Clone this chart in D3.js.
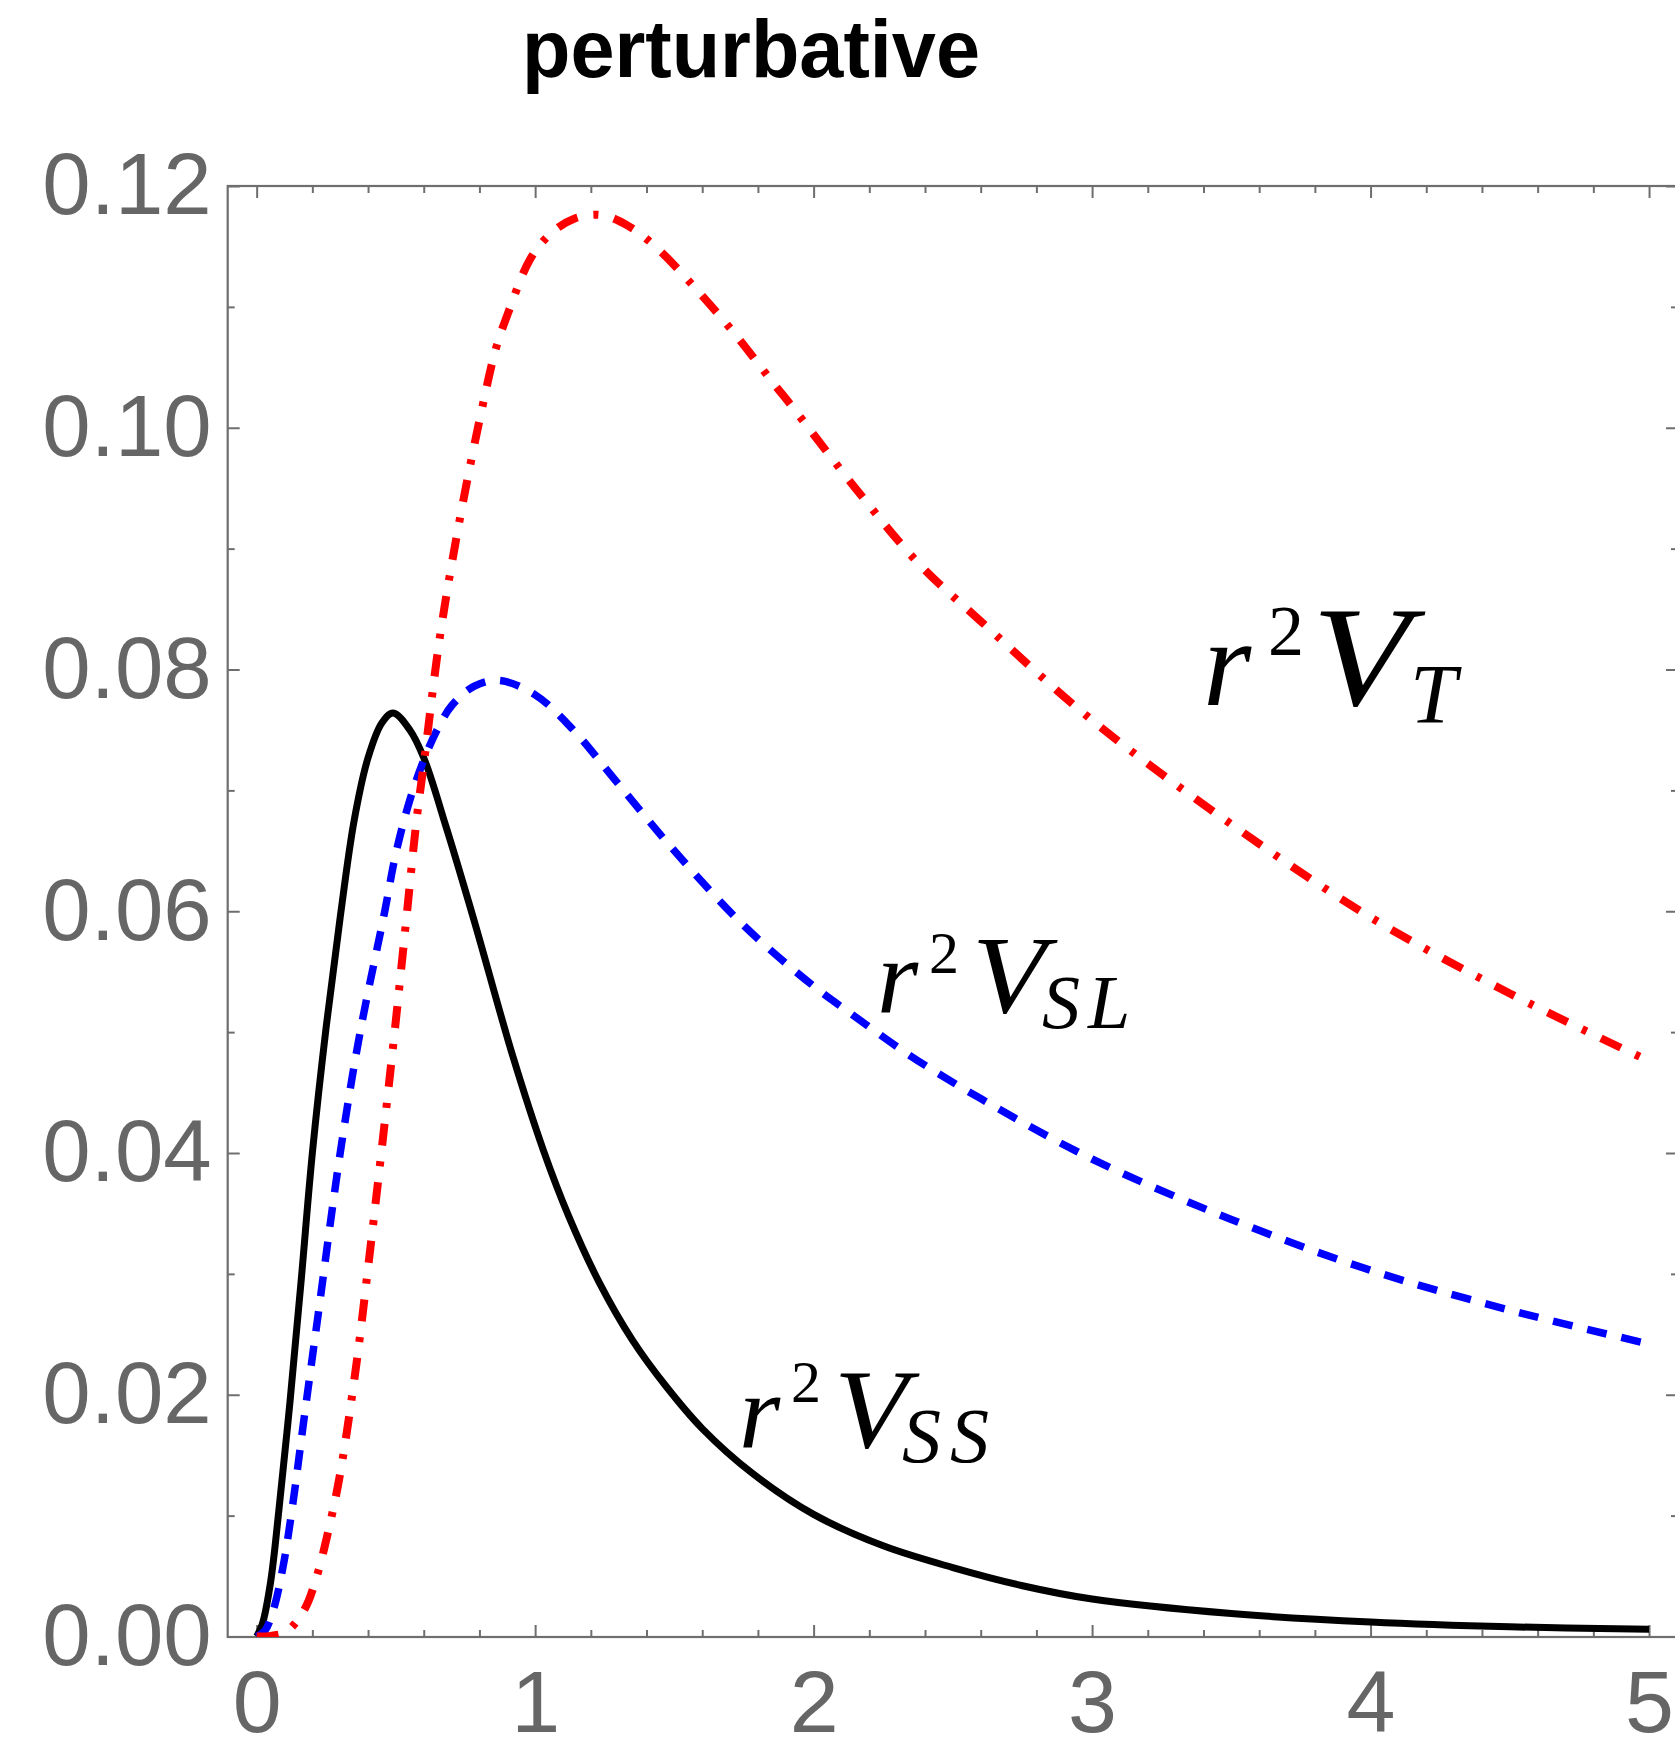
<!DOCTYPE html>
<html>
<head>
<meta charset="utf-8">
<title>perturbative</title>
<style>
  body { margin: 0; background: #fff; }
  .lbl text { font-family: "Liberation Sans", Arial, Helvetica, sans-serif; fill: #666; }
  .math { font-family: "Liberation Serif", "Times New Roman", serif; fill: #000; }
</style>
</head>
<body>
<svg width="1675" height="1737"></svg>

<script src="https://d3js.org/d3.v7.min.js"></script>
<script>

    // tick values and labels
    var xMajor = [0, 1, 2, 3, 4, 5];
    var xLabels = ["0", "1", "2", "3", "4", "5"];
    var yMajor = [0, 0.02, 0.04, 0.06, 0.08, 0.10, 0.12];
    var yLabels = ["0.00", "0.02", "0.04", "0.06", "0.08", "0.10", "0.12"];

    // r^2 V_SS (black, solid)
    var rSS = [0, 0.02, 0.05, 0.08, 0.12, 0.16, 0.2, 0.25, 0.3, 0.35, 0.4, 0.45, 0.49, 0.55, 0.6, 0.68, 0.78, 0.92, 1.03, 1.12, 1.23, 1.35, 1.47, 1.6, 1.78, 2.0, 2.25, 2.5, 2.75, 3.0, 3.5, 4.0, 4.5, 5.0];
    var vSS = [0, 0.0010, 0.0045, 0.0105, 0.0195, 0.0295, 0.0400, 0.0505, 0.0595, 0.0675, 0.0727, 0.0756, 0.0764, 0.0750, 0.0727, 0.0670, 0.0593, 0.0480, 0.0402, 0.0348, 0.0293, 0.0245, 0.0207, 0.0172, 0.0135, 0.0101, 0.0075, 0.0057, 0.0042, 0.0031, 0.0019, 0.0012, 0.0008, 0.0006];

    // r^2 V_SL (blue, dashed)
    var rSL = [0, 0.03, 0.06, 0.095, 0.13, 0.17, 0.22, 0.3, 0.37, 0.46, 0.5, 0.55, 0.6, 0.65, 0.7, 0.78, 0.87, 1.0, 1.125, 1.3, 1.5, 1.75, 2.0, 2.13, 2.35, 2.6, 3.0, 3.5, 4.0, 4.5, 5.0];
    var vSL = [0, 0.0005, 0.0022, 0.0058, 0.0110, 0.0180, 0.0265, 0.0400, 0.0498, 0.0600, 0.0648, 0.0692, 0.0725, 0.0751, 0.0770, 0.0786, 0.0791, 0.0779, 0.0753, 0.0705, 0.0650, 0.0588, 0.0538, 0.0516, 0.0480, 0.0445, 0.0395, 0.0345, 0.0303, 0.0270, 0.0242];

    // r^2 V_T (red, dot-dashed)
    var rT = [0, 0.05, 0.107, 0.173, 0.215, 0.26, 0.3, 0.358, 0.4, 0.45, 0.5, 0.538, 0.574, 0.604, 0.658, 0.73, 0.813, 0.861, 0.903, 0.981, 1.053, 1.14, 1.238, 1.334, 1.436, 1.585, 1.723, 1.855, 1.921, 2.15, 2.38, 2.6, 3.0, 3.5, 4.0, 4.5, 5.0];
    var vT = [0, 0.00005, 0.0004, 0.0023, 0.0049, 0.0090, 0.0135, 0.0225, 0.0305, 0.0405, 0.0510, 0.0595, 0.0675, 0.0729, 0.0827, 0.0925, 0.1020, 0.1067, 0.1095, 0.1139, 0.1160, 0.1173, 0.1176, 0.1167, 0.1149, 0.1113, 0.1076, 0.1037, 0.1018, 0.0950, 0.0887, 0.0840, 0.0758, 0.0672, 0.0595, 0.0532, 0.0476];

    var svg = d3.select("svg");

    // frame edges (pixels)
    var fL = 227.7, fR = 1678, fT = 186, fB = 1637;
    var frameColor = "#6e6e6e";

    var x = d3.scaleLinear().domain([-0.104, 5.104]).range([fL, fR]);
    var y = d3.scaleLinear().domain([0, 0.12]).range([1636.5, fT]);

    var xMinor = d3.range(0, 5.01, 0.2).filter(d => Math.abs(d - Math.round(d)) > 1e-6);
    var yMinor = d3.range(0.01, 0.12, 0.02);

    // ticks pointing inward on all four sides
    function ticks(axisFn, scale, vals, size, tr) {
        var g = svg.append("g")
            .attr("transform", tr)
            .call(axisFn(scale).tickValues(vals).tickSize(size).tickFormat(""));
        g.select(".domain").remove();
        g.selectAll("line").attr("stroke", frameColor).attr("stroke-width", 2);
    }
    ticks(d3.axisTop, x, xMajor, 12, "translate(0," + fB + ")");
    ticks(d3.axisTop, x, xMinor, 7, "translate(0," + fB + ")");
    ticks(d3.axisBottom, x, xMajor, 12, "translate(0," + fT + ")");
    ticks(d3.axisBottom, x, xMinor, 7, "translate(0," + fT + ")");
    ticks(d3.axisRight, y, yMajor, 12, "translate(" + fL + ",0)");
    ticks(d3.axisRight, y, yMinor, 7, "translate(" + fL + ",0)");
    ticks(d3.axisLeft, y, yMajor, 12, "translate(" + fR + ",0)");
    ticks(d3.axisLeft, y, yMinor, 7, "translate(" + fR + ",0)");

    svg.append("rect")
        .attr("x", fL).attr("y", fT)
        .attr("width", fR - fL).attr("height", fB - fT)
        .attr("fill", "none")
        .attr("stroke", frameColor)
        .attr("stroke-width", 2.2);

    // tick labels
    var gx = svg.append("g").attr("class", "lbl")
        .attr("transform", "translate(0," + fB + ")")
        .call(d3.axisBottom(x).tickValues(xMajor).tickSize(0).tickPadding(33)
            .tickFormat((d, i) => xLabels[i]));
    gx.select(".domain").remove();
    gx.selectAll("text").attr("font-size", 88);

    var gy = svg.append("g").attr("class", "lbl")
        .attr("transform", "translate(" + fL + ",0)")
        .call(d3.axisLeft(y).tickValues(yMajor).tickSize(0).tickPadding(16)
            .tickFormat((d, i) => yLabels[i]));
    gy.select(".domain").remove();
    gy.selectAll("text").attr("font-size", 87);

    // title
    svg.append("text")
        .attr("x", 751).attr("y", 77)
        .attr("text-anchor", "middle")
        .attr("font-family", "'Liberation Sans', Arial, Helvetica, sans-serif")
        .attr("font-weight", "bold")
        .attr("font-size", 82)
        .attr("textLength", 458)
        .attr("lengthAdjust", "spacingAndGlyphs")
        .text("perturbative");

    // curves
    svg.append("clipPath").attr("id", "plot")
        .append("rect")
        .attr("x", fL).attr("y", fT)
        .attr("width", fR - fL).attr("height", fB - fT);

    var line = d3.line()
        .x(d => x(d[0]))
        .y(d => y(d[1]))
        .curve(d3.curveCatmullRom.alpha(0.5));

    var series = [
        {r: rSS, v: vSS, color: "#000000", width: 7, dash: null},
        {r: rSL, v: vSL, color: "#0000ff", width: 7.5, dash: "20,15"},
        {r: rT, v: vT, color: "#ff0000", width: 8, dash: "22,16,5,16"}
    ];

    svg.append("g")
        .attr("clip-path", "url(#plot)")
        .selectAll("path")
        .data(series)
        .enter().append("path")
            .attr("d", s => line(d3.zip(s.r, s.v)))
            .attr("fill", "none")
            .attr("stroke", s => s.color)
            .attr("stroke-width", s => s.width)
            .attr("stroke-dasharray", s => s.dash);

    // math labels: r^2 V_sub
    function mathLabel(p) {
        var t = svg.append("text").attr("class", "math");
        t.append("tspan").attr("x", p.rx).attr("y", p.base)
            .attr("font-size", p.rSize).attr("font-style", "italic").text("r");
        t.append("tspan").attr("x", p.twoX).attr("y", p.twoBase)
            .attr("font-size", p.twoSize).text("2");
        t.append("tspan").attr("x", p.vx).attr("y", p.base)
            .attr("font-size", p.vSize).attr("font-style", "italic")
            .attr("textLength", p.vLen).attr("lengthAdjust", "spacingAndGlyphs").text("V");
        t.append("tspan").attr("x", p.subX).attr("y", p.subBase)
            .attr("font-size", p.subSize).attr("font-style", "italic")
            .attr("letter-spacing", p.subSpacing).text(p.sub);
    }

    mathLabel({rx: 1203, base: 705, rSize: 124, twoX: 1268, twoBase: 655, twoSize: 72,
               vx: 1312, vSize: 142, vLen: 98, subX: 1410, subBase: 723, subSize: 84, subSpacing: 0, sub: "T"});
    mathLabel({rx: 877, base: 1012, rSize: 106, twoX: 929, twoBase: 973, twoSize: 60,
               vx: 972, vSize: 110, vLen: 74, subX: 1042, subBase: 1028, subSize: 76, subSpacing: 8, sub: "SL"});
    mathLabel({rx: 739, base: 1447, rSize: 106, twoX: 791, twoBase: 1402, twoSize: 60,
               vx: 834, vSize: 112, vLen: 74, subX: 902, subBase: 1462, subSize: 78, subSpacing: 9, sub: "SS"});

</script>
</body>
</html>
